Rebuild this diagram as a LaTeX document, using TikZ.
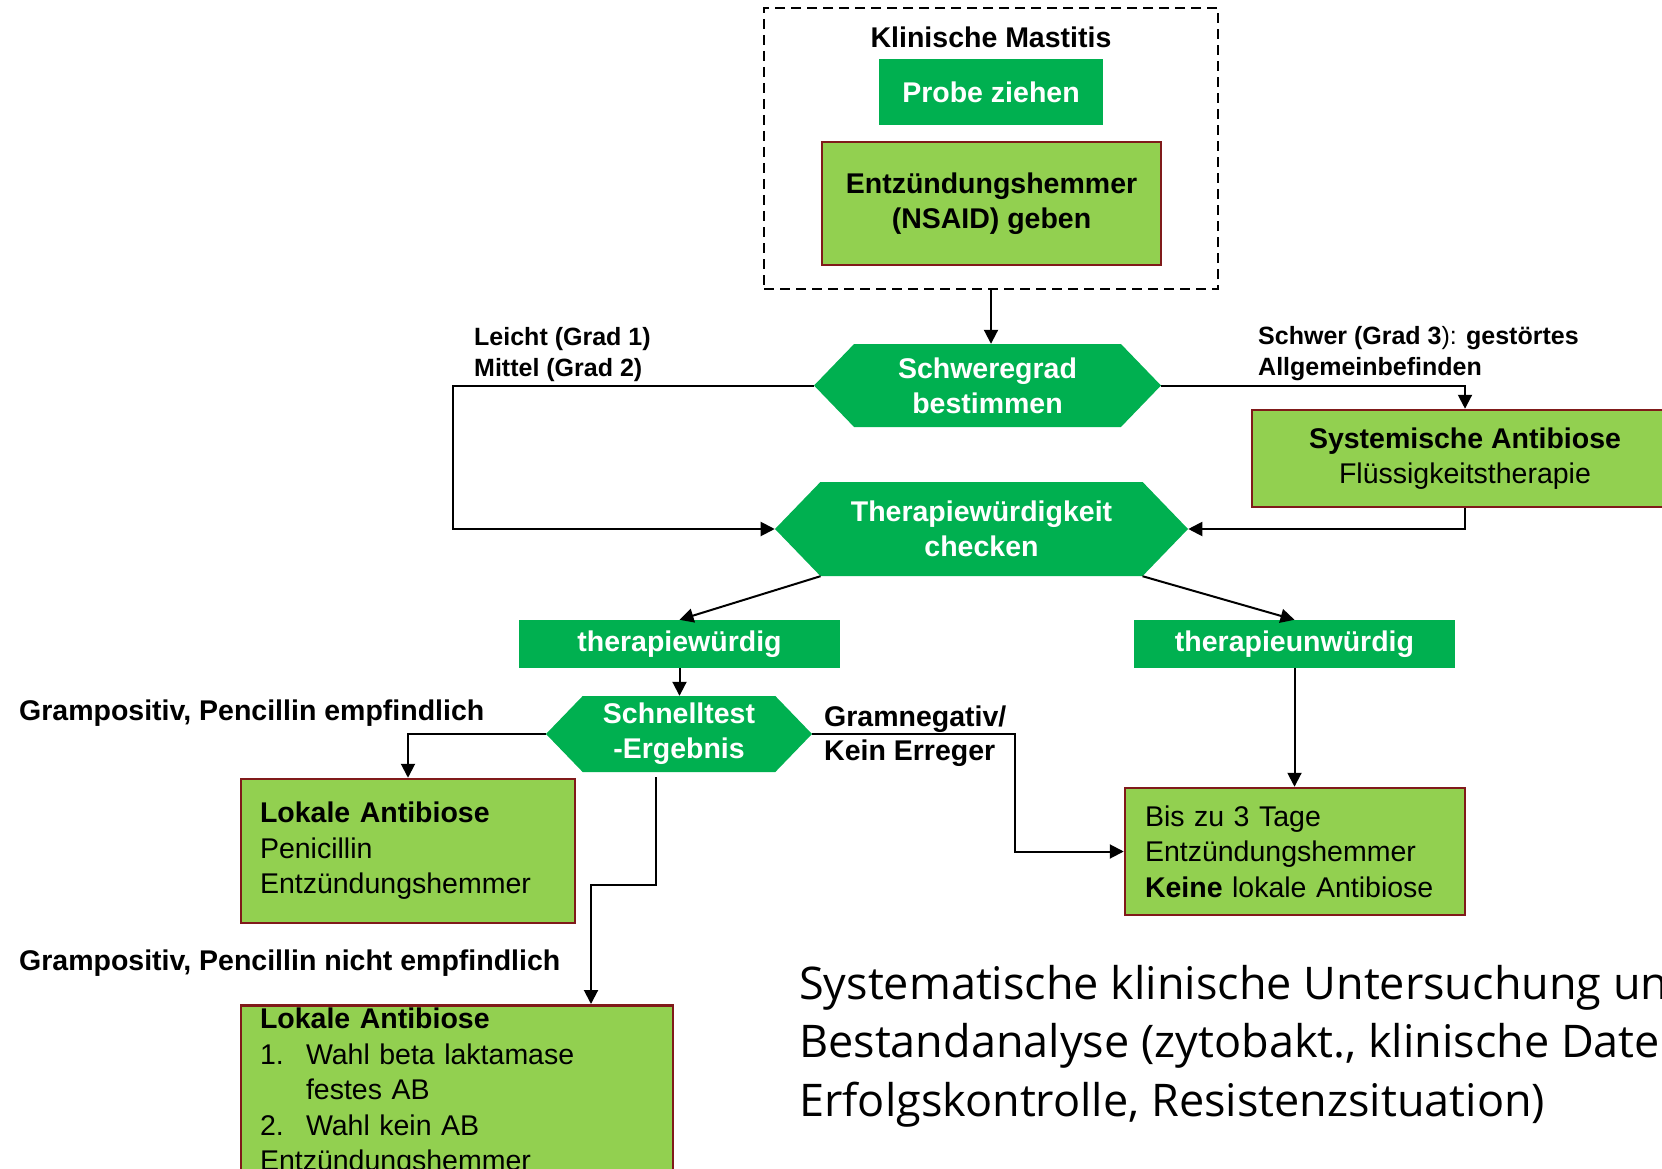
\documentclass[tikz,border=0pt]{standalone}
\usepackage{fontspec}
\setmainfont{Liberation Sans}
\newfontfamily\notizfont{Open Sans}
\usepackage{tikz}
\usetikzlibrary{positioning,arrows.meta,shapes.symbols}
\definecolor{dgreen}{RGB}{0,176,80}
\definecolor{lgreen}{RGB}{146,208,80}
\definecolor{boxred}{RGB}{128,26,26}

\begin{document}
\begin{tikzpicture}[x=1pt, y=-1pt, every node/.style={font=\fontsize{28.5}{35.5}\selectfont, inner sep=0pt},
  gbox/.style={fill=dgreen, text=white, font=\fontsize{28.5}{35}\selectfont\bfseries, align=center},
  hexa/.style={shape=signal, signal to=west and east, signal pointer angle=92, fill=dgreen, text=white, font=\fontsize{28.5}{35}\selectfont\bfseries, align=center},
  lbox/.style={draw=boxred, line width=2.5pt, fill=lgreen, align=left},
  lbl/.style={anchor=west, align=left, font=\fontsize{28.5}{34}\selectfont\bfseries},
  lblk/.style={lbl, font=\fontsize{25}{31}\selectfont\bfseries},
  conn/.style={line width=2pt, -{Triangle[length=14pt,width=14pt]}}]
  \useasboundingbox (0,0) rectangle (1662,1169);
  \clip (0,0) rectangle (1662,1169);
  % Kopf
  \node[draw, line width=2pt, dash pattern=on 10pt off 6pt, minimum width=454, minimum height=281] (frame) at (991,148.5) {};
  \node[font=\fontsize{28.5}{35}\selectfont\bfseries] (titel) at (991,37) {Klinische Mastitis};
  \node[gbox, minimum width=224, minimum height=66] (probe) at (991,92) {Probe ziehen};
  \node[lbox, align=center, font=\fontsize{28.5}{35}\selectfont\bfseries, minimum width=339, minimum height=123] (nsaid) at (991.5,203.5) {Entzündungshemmer\\(NSAID) geben};
  % Entscheidungen
  \node[hexa, minimum width=347, minimum height=83] (schwere) at (987.5,385.5) {Schweregrad\\bestimmen};
  \node[hexa, minimum width=413, minimum height=94] (ther) at (981.5,529) {Therapiewürdigkeit\\checken};
  \node[lbox, align=center, minimum width=426, minimum height=97] (sys) at (1465,458.5) {\textbf{Systemische Antibiose}\\Flüssigkeitstherapie};
  \node[gbox, minimum width=321, minimum height=48] (tw) at (679.5,644) {therapiewürdig};
  \node[gbox, minimum width=321, minimum height=48] (tu) at (1294.5,644) {therapieunwürdig};
  \node[hexa, minimum width=266, minimum height=76] (schnell) at (679,734) {Schnelltest\\-Ergebnis};
  % Massnahmen
  \node[lbox, minimum width=334, minimum height=144, text width=296, inner xsep=19pt] (lok1) at (408,851) {\textbf{Lokale Antibiose}\\Penicillin\\Entzündungshemmer};
  \node[lbox, anchor=north, text width=394, inner xsep=19pt, inner ysep=3pt] (lok2) at (457,1004) {\textbf{Lokale Antibiose}\\\makebox[46pt][l]{1.}Wahl beta laktamase\\\hspace*{46pt}festes AB\\\makebox[46pt][l]{2.}Wahl kein AB\\Entzündungshemmer};
  \node[lbox, minimum width=340, minimum height=127, text width=300, inner xsep=20pt] (bis) at (1295,851.5) {Bis zu 3 Tage\\Entzündungshemmer\\\textbf{Keine} lokale Antibiose};
  % Beschriftungen
  \node[lblk] (leicht) at (474,355) {Leicht (Grad 1)\\Mittel (Grad 2)};
  \node[lblk] (schwer) at (1258,354) {Schwer (Grad 3{\mdseries):} gestörtes\\Allgemeinbefinden};
  \node[lbl] (gpos) at (19,713) {Grampositiv, Pencillin empfindlich};
  \node[lbl] (gneg) at (824,736) {Gramnegativ/\\Kein Erreger};
  \node[lbl] (gposn) at (19,963) {Grampositiv, Pencillin nicht empfindlich};
  \node[anchor=west, align=left, font=\notizfont\fontsize{45}{58.5}\selectfont] (notiz) at (799,1046) {Systematische klinische Untersuchung und\\Bestandanalyse (zytobakt., klinische Daten,\\Erfolgskontrolle, Resistenzsituation)};
  % Verbindungen
  \coordinate (links) at (453,0);
  \coordinate (rechts) at (1015,0);
  \coordinate (start) at (656,777);
  \coordinate (knick) at (591,885);
  \draw[conn] (frame.south) -- (frame.south |- schwere.north);
  \draw[conn] (schwere.west) -- (schwere.west -| links) |- (ther.west);
  \draw[conn] (schwere.east) -| (sys.north);
  \draw[conn] (sys.south) |- (ther.east);
  \draw[conn] ([xshift=-161pt]ther.south) -- (tw.north);
  \draw[conn] ([xshift=161pt]ther.south) -- (tu.north);
  \draw[conn] (tw.south) -- (tw.south |- schnell.north);
  \draw[conn] (schnell.west) -| (lok1.north);
  \draw[conn] (start) -- (start |- knick) -- (knick) -- (knick |- lok2.north);
  \draw[conn] (schnell.east) -- (schnell.east -| rechts) |- (bis.west);
  \draw[conn] (tu.south) -- (tu.south |- bis.north);
\end{tikzpicture}
\end{document}
